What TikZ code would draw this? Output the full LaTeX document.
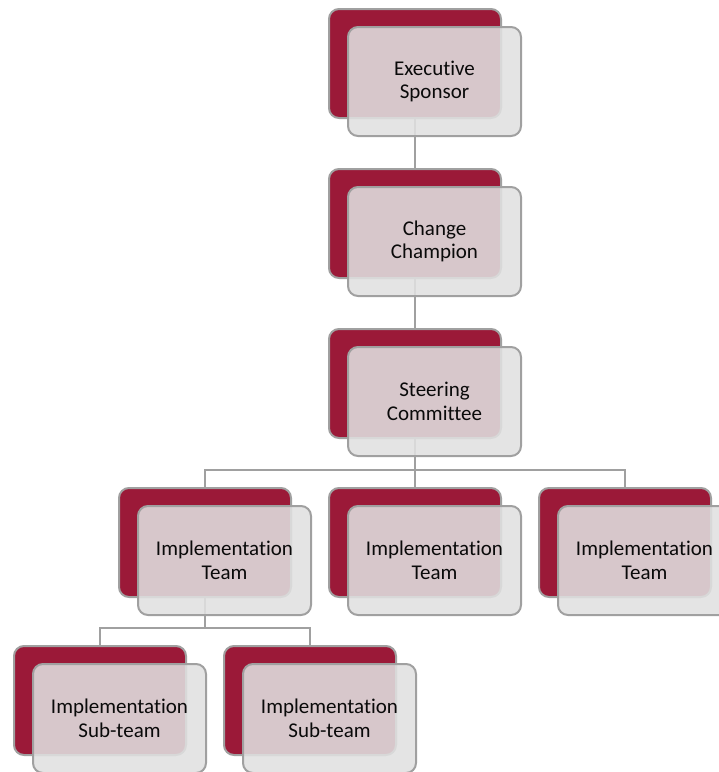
\documentclass[tikz,border=0pt]{standalone}
\usepackage{fontspec}
\setmainfont[Ligatures={NoCommon}]{Carlito}
\usetikzlibrary{calc}
\definecolor{crimson}{RGB}{155,25,56}
\definecolor{edgegrey}{RGB}{160,160,160}
\definecolor{frontfill}{RGB}{224,224,224}
\definecolor{txt}{RGB}{10,10,10}
\tikzset{
  redbox/.style={draw=edgegrey, line width=2pt, fill=crimson, rounded corners=10pt,
    minimum width=172pt, minimum height=109pt, anchor=north west, inner sep=0pt},
  frontbox/.style={draw=edgegrey, line width=2pt, fill=frontfill, fill opacity=0.88,
    text opacity=1, rounded corners=10pt, minimum width=173pt, minimum height=109pt,
    anchor=north west, inner sep=0pt, align=center, text=txt,
    font=\fontsize{21pt}{23.5pt}\selectfont},
  link/.style={draw=edgegrey, line width=2pt}
}
\begin{document}
\begin{tikzpicture}[x=1pt,y=-1pt]
\useasboundingbox (0,0) rectangle (719,772);
\clip (0,0) rectangle (719,772);
% back boxes
\node[redbox] (es-r) at (328,8) {};
\node[redbox] (cc-r) at (328,168) {};
\node[redbox] (sc-r) at (328,328) {};
\node[redbox] (it1-r) at (118,487) {};
\node[redbox] (it2-r) at (328,487) {};
\node[redbox] (it3-r) at (538,487) {};
\node[redbox] (st1-r) at (13,645) {};
\node[redbox] (st2-r) at (223,645) {};
% connectors (behind front boxes)
\coordinate (bar1) at (414,469.5);
\coordinate (bar2) at (205,628);
\draw[link] (es-r.south) -- (cc-r.north);
\draw[link] (cc-r.south) -- (sc-r.north);
\draw[link] (sc-r.south) -- (sc-r.south |- bar1);
\draw[link] (it1-r.north) |- (it3-r.north |- bar1) -- (it3-r.north);
\draw[link] (it2-r.north) -- (it2-r.north |- bar1);
\draw[link] (it1-r.south) -- (it1-r.south |- bar2);
\draw[link] (st1-r.north) |- (st2-r.north |- bar2) -- (st2-r.north);
% front boxes
\node[frontbox] (es) at ([shift={(19pt,-18pt)}]es-r.north west) {Executive\\Sponsor};
\node[frontbox] (cc) at ([shift={(19pt,-18pt)}]cc-r.north west) {Change\\Champion};
\node[frontbox] (sc) at ([shift={(19pt,-18pt)}]sc-r.north west) {Steering\\Committee};
\node[frontbox] (it1) at ([shift={(19pt,-18pt)}]it1-r.north west) {Implementation\\Team};
\node[frontbox] (it2) at ([shift={(19pt,-18pt)}]it2-r.north west) {Implementation\\Team};
\node[frontbox] (it3) at ([shift={(19pt,-18pt)}]it3-r.north west) {Implementation\\Team};
\node[frontbox] (st1) at ([shift={(19pt,-18pt)}]st1-r.north west) {Implementation\\Sub-team};
\node[frontbox] (st2) at ([shift={(19pt,-18pt)}]st2-r.north west) {Implementation\\Sub-team};
\end{tikzpicture}
\end{document}
